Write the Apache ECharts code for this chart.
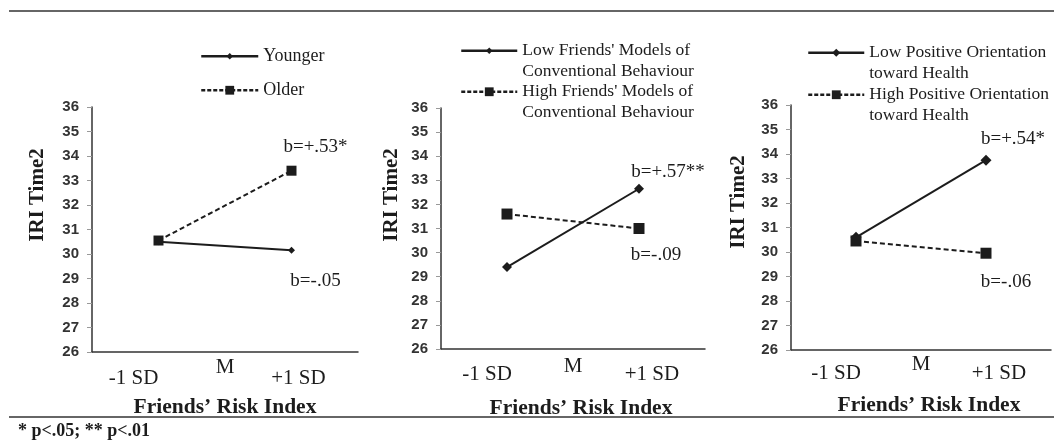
<!DOCTYPE html>
<html>
<head>
<meta charset="utf-8">
<script src="https://cdn.jsdelivr.net/npm/echarts@6/dist/echarts.min.js"></script>
<style>
  html, body { margin: 0; padding: 0; background: #fff; }
  #chart { width: 1054px; height: 440px; }
</style>
</head>
<body>
<div id="chart"></div>
<script>
// data
const categories = ['-1 SD', '+1 SD'];
const midTicks = ['', 'M', ''];
const yMin = 26, yMax = 36;

const younger = [30.5, 30.15];
const older = [30.55, 33.4];
const lowModels = [29.4, 32.65];
const highModels = [31.6, 31.0];
const lowHealth = [30.6, 33.75];
const highHealth = [30.45, 29.95];

const seriesNames = [
  'Younger', 'Older',
  "Low Friends' Models of\nConventional Behaviour", "High Friends' Models of\nConventional Behaviour",
  'Low Positive Orientation\ntoward Health', 'High Positive Orientation\ntoward Health'
];
const slopeLabels = ['b=-.05', 'b=+.53*', 'b=+.57**', 'b=-.09', 'b=+.54*', 'b=-.06'];

const serif = '"Liberation Serif", "Times New Roman", serif';
const sans = '"Liberation Sans", Arial, sans-serif';
const ink = '#1c1c1c';

const panels = [
  { grid: { left: 92, top: 107, width: 266, height: 245 }, yName: [38, 195], labelMargin: 16, mMargin: 5, nameGap: 44, shift: [-25, 7], nameShift: 0,
    series: [
      { data: younger, dashed: false, symbol: 'diamond', size: 7, offset: [24, 31], legend: { left: 200, iconY: 56, w: 57, h: 8 } },
      { data: older, dashed: true, symbol: 'rect', size: 10, offset: [24, -24], legend: { left: 200, iconY: 90, w: 57, h: 11 } }
    ] },
  { grid: { left: 441, top: 108, width: 264, height: 241 }, yName: [392, 195], labelMargin: 15, mMargin: 7, nameGap: 48, shift: [-20, 13], nameShift: 8,
    series: [
      { data: lowModels, dashed: false, symbol: 'diamond', size: 10, offset: [29, -17], legend: { left: 460, iconY: 50, w: 56, h: 8 } },
      { data: highModels, dashed: true, symbol: 'rect', size: 11, offset: [17, 27], legend: { left: 460, iconY: 91, w: 56, h: 11 } }
    ] },
  { grid: { left: 791, top: 105, width: 263, height: 245 }, yName: [739, 202], labelMargin: 13, mMargin: 4, nameGap: 44, shift: [-20, 13], nameShift: 8,
    series: [
      { data: lowHealth, dashed: false, symbol: 'diamond', size: 11, offset: [27, -21], legend: { left: 807, iconY: 52, w: 56, h: 10 } },
      { data: highHealth, dashed: true, symbol: 'rect', size: 11, offset: [20, 29], legend: { left: 807, iconY: 94, w: 56, h: 11 } }
    ] }
];

const grid = [], xAxis = [], yAxis = [], series = [], legend = [];
const graphic = [
  { type: 'line', shape: { x1: 9, y1: 11, x2: 1054, y2: 11 }, style: { stroke: '#333', lineWidth: 1.5 } },
  { type: 'line', shape: { x1: 9, y1: 417, x2: 1054, y2: 417 }, style: { stroke: '#333', lineWidth: 1.5 } },
  { type: 'text', x: 18, y: 431, style: { text: '* p<.05; ** p<.01', font: 'bold 18px ' + serif, fill: ink, verticalAlign: 'middle' } }
];

let k = 0;
panels.forEach((p, i) => {
  grid.push(p.grid);
  xAxis.push({
    type: 'category', gridIndex: i, data: categories, boundaryGap: true,
    name: "Friends\u2019 Risk Index", nameLocation: 'middle', nameGap: p.nameGap,
    nameTextStyle: { fontFamily: serif, fontWeight: 'bold', fontSize: 21.5, color: ink, padding: [0, 0, 0, p.nameShift * 2] },
    axisLine: { lineStyle: { color: '#333', width: 1.5 } },
    axisTick: { length: 5, lineStyle: { color: '#999' } },
    splitLine: { show: false },
    axisLabel: {
      interval: 0, margin: p.labelMargin, color: ink, fontFamily: serif, fontSize: 21,
      formatter: v => v === categories[0] ? '{a|' + v + '}' : '{b|' + v + '}',
      rich: {
        a: { fontFamily: serif, fontSize: 21, color: ink, padding: [0, -p.shift[0] * 2, 0, 0] },
        b: { fontFamily: serif, fontSize: 21, color: ink, padding: [0, 0, 0, p.shift[1] * 2] }
      }
    }
  });
  xAxis.push({
    type: 'category', gridIndex: i, data: midTicks, boundaryGap: false, position: 'bottom',
    axisLine: { show: false }, axisTick: { show: false }, splitLine: { show: false },
    axisLabel: { interval: 0, margin: p.mMargin, color: ink, fontFamily: serif, fontSize: 21 }
  });
  yAxis.push({
    type: 'value', gridIndex: i, min: yMin, max: yMax, interval: 1,
    axisLine: { show: true, lineStyle: { color: '#333', width: 1.5 } },
    axisTick: { show: true, length: 5, lineStyle: { color: '#999' } },
    splitLine: { show: false },
    axisLabel: { margin: 13, color: '#333', fontFamily: sans, fontWeight: 'bold', fontSize: 15 }
  });
  graphic.push({
    type: 'text', x: p.yName[0], y: p.yName[1], rotation: Math.PI / 2,
    style: { text: 'IRI Time2', font: 'bold 21px ' + serif, fill: ink, align: 'center', verticalAlign: 'middle' }
  });

  p.series.forEach(s => {
    const name = seriesNames[k];
    const note = slopeLabels[k];
    const multi = name.indexOf('\n') >= 0;
    series.push({
      type: 'line', name: name, xAxisIndex: i * 2, yAxisIndex: i, data: s.data,
      symbol: s.symbol, symbolSize: s.size, showAllSymbol: true,
      itemStyle: { color: ink },
      lineStyle: { color: ink, width: 2, type: s.dashed ? [5, 3] : 'solid' },
      label: {
        show: true, position: 'inside', offset: s.offset,
        formatter: d => d.dataIndex === 1 ? note : '',
        fontFamily: serif, fontSize: 19, color: ink
      },
      emphasis: { disabled: true },
      animation: false
    });
    // two-line entries: a blank first line keeps the icon level with the first text line
    legend.push({
      data: [name], orient: 'vertical', left: s.legend.left,
      top: s.legend.iconY - (multi ? 30 : 10),
      padding: 0, itemWidth: s.legend.w, itemHeight: s.legend.h, selectedMode: false,
      formatter: n => multi ? '\u00a0\n' + n : n,
      lineStyle: { width: 2.5, type: s.dashed ? [4, 2] : 'solid' },
      textStyle: { fontFamily: serif, fontSize: multi ? 17.5 : 18, color: ink, lineHeight: 20.5 }
    });
    k++;
  });
});

const chart = echarts.init(document.getElementById('chart'));
chart.setOption({
  backgroundColor: '#fff',
  animation: false,
  grid, xAxis, yAxis, series, legend, graphic
});
</script>
</body>
</html>
